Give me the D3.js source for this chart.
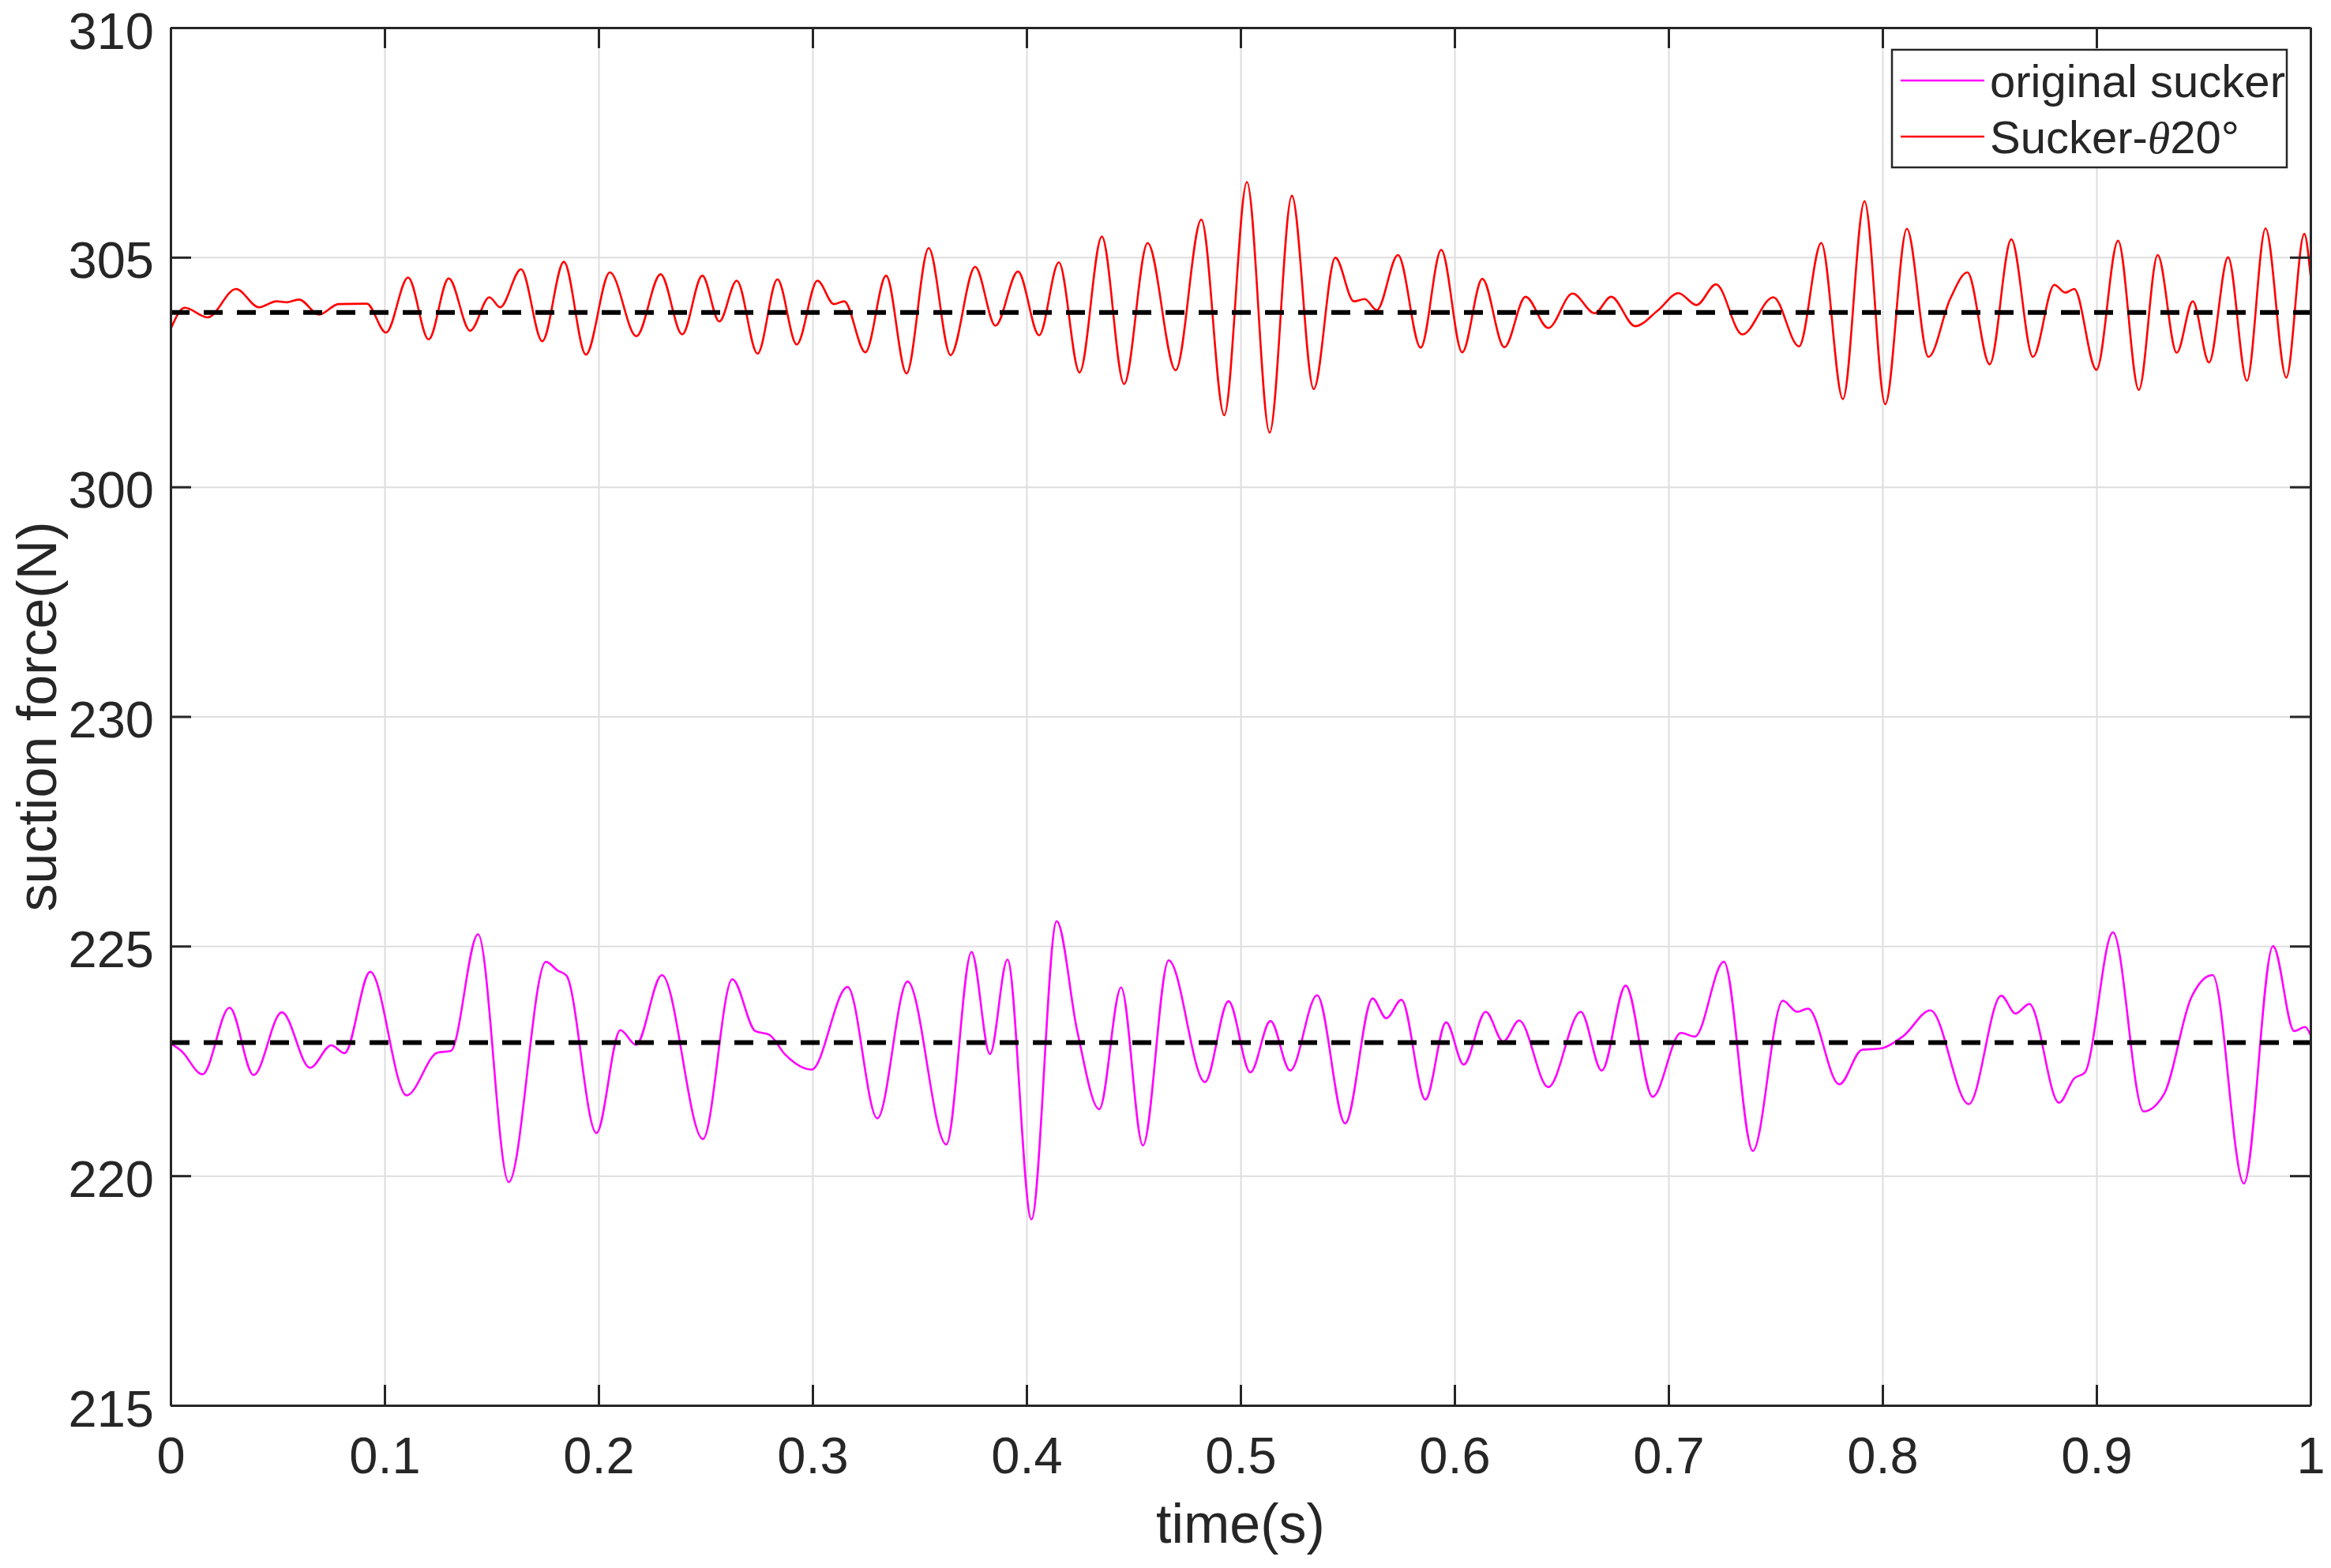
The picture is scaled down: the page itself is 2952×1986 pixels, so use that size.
<!DOCTYPE html>
<html>
<head>
<meta charset="utf-8">
<script src="https://cdn.jsdelivr.net/npm/d3@7"></script>
<style>
  body { margin: 0; background: #fff; }
  text { font-family: "Liberation Sans", Arial, sans-serif; fill: #262626; }
</style>
</head>
<body>
<script>
// values (peaks, troughs, shoulders)
const TIME_TICKS = [0, 0.1, 0.2, 0.3, 0.4, 0.5, 0.6, 0.7, 0.8, 0.9, 1];
const FORCE_TICKS = [215, 220, 225, 230, 300, 305, 310];
const SERIES_NAMES = ["original sucker", "Sucker-θ20°"];
const SERIES_COLORS = ["#ff00ff", "#ff0000"];
const MEAN_FORCE = [222.9, 303.8];

const ORIGINAL_TIME = [
  0, 0.005, 0.0149, 0.0276, 0.0388, 0.052, 0.0652, 0.0751, 0.0813, 0.0933,
  0.1103, 0.1247, 0.131, 0.1437, 0.158, 0.1754, 0.1808, 0.185, 0.199, 0.2102,
  0.2175, 0.2296, 0.2488, 0.2625, 0.2732, 0.2798, 0.2872, 0.2995, 0.3164, 0.3303,
  0.3444, 0.3625, 0.3743, 0.3829, 0.3911, 0.4023, 0.4141, 0.4237, 0.434, 0.4442,
  0.4544, 0.4664, 0.4834, 0.4944, 0.5046, 0.514, 0.5232, 0.5358, 0.5489, 0.5617,
  0.5681, 0.5752, 0.5864, 0.5961, 0.6043, 0.6146, 0.6228, 0.6302, 0.6438, 0.659,
  0.6688, 0.68, 0.6926, 0.7058, 0.7123, 0.7259, 0.7394, 0.7534, 0.7602, 0.7652,
  0.7798, 0.7904, 0.7988, 0.8097, 0.8224, 0.8403, 0.8555, 0.8622, 0.8686, 0.8825,
  0.8896, 0.8946, 0.9077, 0.922, 0.9316, 0.9442, 0.9543, 0.9689, 0.9825, 0.9924,
  0.9975, 1
];
const ORIGINAL_FORCE = [
  222.88, 222.72, 222.21, 223.66, 222.19, 223.56, 222.35, 222.84, 222.67, 224.44,
  221.75, 222.68, 222.72, 225.26, 219.86, 224.66, 224.47, 224.36, 220.93, 223.17,
  222.85, 224.37, 220.8, 224.28, 223.15, 223.07, 222.64, 222.31, 224.11, 221.25,
  224.23, 220.68, 224.87, 222.65, 224.71, 219.05, 225.54, 223.15, 221.45, 224.1,
  220.66, 224.69, 222.04, 223.8, 222.25, 223.37, 222.29, 223.93, 221.14, 223.86,
  223.43, 223.83, 221.66, 223.34, 222.42, 223.57, 222.92, 223.38, 221.93, 223.57,
  222.29, 224.14, 221.72, 223.11, 223.03, 224.66, 220.54, 223.81, 223.57, 223.64,
  221.99, 222.74, 222.77, 223.04, 223.6, 221.56, 223.92, 223.53, 223.74, 221.59,
  222.12, 222.25, 225.3, 221.4, 221.78, 223.87, 224.37, 219.83, 225.0, 223.15,
  223.24, 223.07
];

const THETA20_TIME = [
  0, 0.0066, 0.0173, 0.0306, 0.0413, 0.0495, 0.0545, 0.06, 0.0694, 0.0785,
  0.0917, 0.1007, 0.111, 0.1206, 0.13, 0.14, 0.149, 0.154, 0.1638, 0.1737,
  0.1838, 0.1941, 0.2053, 0.2177, 0.229, 0.2391, 0.2485, 0.2564, 0.2646, 0.2743,
  0.2836, 0.2926, 0.3023, 0.31, 0.3148, 0.3247, 0.3344, 0.3439, 0.3543, 0.3645,
  0.376, 0.3855, 0.396, 0.4059, 0.4151, 0.4248, 0.4352, 0.4456, 0.4566, 0.4697,
  0.4817, 0.4924, 0.503, 0.5136, 0.524, 0.5342, 0.5443, 0.553, 0.558, 0.5637,
  0.5736, 0.5842, 0.5938, 0.6036, 0.613, 0.6233, 0.6332, 0.6438, 0.6552, 0.6655,
  0.6732, 0.6844, 0.695, 0.7046, 0.7131, 0.7222, 0.7345, 0.749, 0.761, 0.7714,
  0.7815, 0.7916, 0.8013, 0.8114, 0.8215, 0.8316, 0.8397, 0.8501, 0.8602, 0.8703,
  0.8803, 0.8854, 0.8896, 0.9, 0.9101, 0.9198, 0.9286, 0.9375, 0.945, 0.9526,
  0.9615, 0.9703, 0.979, 0.9887, 0.9971, 1
];
const THETA20_FORCE = [
  303.43, 303.9, 303.69, 304.31, 303.91, 304.04, 304.02, 304.08, 303.75, 303.98,
  303.99, 303.36, 304.56, 303.21, 304.54, 303.4, 304.13, 303.91, 304.74, 303.17,
  304.9, 302.88, 304.67, 303.28, 304.63, 303.32, 304.6, 303.6, 304.49, 302.9,
  304.52, 303.1, 304.49, 303.98, 304.04, 302.93, 304.6, 302.47, 305.2, 302.87,
  304.79, 303.51, 304.69, 303.3, 304.89, 302.49, 305.45, 302.24, 305.31, 302.54,
  305.82, 301.56, 306.64, 301.18, 306.34, 302.13, 304.99, 304.04, 304.09, 303.85,
  305.05, 303.03, 305.16, 302.93, 304.53, 303.04, 304.14, 303.46, 304.21, 303.78,
  304.14, 303.5, 303.84, 304.22, 303.96, 304.41, 303.32, 304.13, 303.06, 305.31,
  301.91, 306.22, 301.8, 305.62, 302.83, 304.09, 304.67, 302.67, 305.39, 302.83,
  304.4, 304.23, 304.31, 302.55, 305.36, 302.11, 305.05, 302.92, 304.04, 302.71,
  305.0, 302.31, 305.63, 302.38, 305.51, 304.61
];

const width = 2952,
  height = 1986,
  margin = { left: 216, right: 26, top: 35, bottom: 206 },
  plotW = width - margin.left - margin.right,
  plotH = height - margin.top - margin.bottom,
  step = plotH / 6,
  axisColor = "#262626",
  gridColor = "#dedede";

const svg = d3
  .select("body")
  .append("svg")
  .attr("width", width)
  .attr("height", height);

svg.append("rect").attr("width", width).attr("height", height).attr("fill", "#fff");

const g = svg.append("g").attr("transform", `translate(${margin.left},${margin.top})`);

const xScale = d3.scaleLinear().domain([0, 1]).range([0, plotW]);

// broken axis: 230 -> 300 takes one tick step
const yScale = d3
  .scaleLinear()
  .domain([215, 230, 300, 310])
  .range([plotH, plotH - 3 * step, plotH - 4 * step, 0]);

// grid
g.append("g")
  .attr("class", "grid")
  .attr("transform", `translate(0,${plotH})`)
  .call(d3.axisBottom(xScale).tickValues(TIME_TICKS.slice(1, -1)).tickSize(-plotH).tickFormat(""));
g.append("g")
  .attr("class", "grid")
  .call(d3.axisLeft(yScale).tickValues(FORCE_TICKS.slice(1, -1)).tickSize(-plotW).tickFormat(""));
g.selectAll(".grid .domain").remove();
g.selectAll(".grid line").attr("stroke", gridColor).attr("stroke-width", 2);

// series
const line = d3
  .line()
  .x(d => xScale(d[0]))
  .y(d => yScale(d[1]))
  .curve(d3.curveMonotoneX);

const SERIES = [
  d3.zip(ORIGINAL_TIME, ORIGINAL_FORCE),
  d3.zip(THETA20_TIME, THETA20_FORCE)
];

g.selectAll(".series")
  .data(SERIES)
  .enter()
  .append("path")
  .attr("class", "series")
  .attr("d", line)
  .attr("fill", "none")
  .attr("stroke", (d, i) => SERIES_COLORS[i])
  .attr("stroke-width", 2.6)
  .attr("stroke-linejoin", "round");

// mean lines
g.selectAll(".mean")
  .data(MEAN_FORCE)
  .enter()
  .append("line")
  .attr("class", "mean")
  .attr("x1", xScale(0))
  .attr("x2", xScale(1))
  .attr("y1", d => yScale(d))
  .attr("y2", d => yScale(d))
  .attr("stroke", "#000")
  .attr("stroke-width", 6)
  .attr("stroke-dasharray", "24,18");

// axes
const xAxis = g
  .append("g")
  .attr("transform", `translate(0,${plotH})`)
  .call(
    d3.axisBottom(xScale)
      .tickValues(TIME_TICKS)
      .tickSizeInner(-26)
      .tickSizeOuter(0)
      .tickPadding(40)
      .tickFormat(d3.format(""))
  );
const yAxis = g
  .append("g")
  .call(
    d3.axisLeft(yScale)
      .tickValues(FORCE_TICKS)
      .tickSizeInner(-26)
      .tickSizeOuter(0)
      .tickPadding(21)
      .tickFormat(d3.format(""))
  );
yAxis.selectAll(".tick text").attr("dy", "0.4em");
const topAxis = g
  .append("g")
  .call(d3.axisTop(xScale).tickValues(TIME_TICKS).tickSizeInner(-26).tickSizeOuter(0).tickFormat(""));
const rightAxis = g
  .append("g")
  .attr("transform", `translate(${plotW},0)`)
  .call(d3.axisRight(yScale).tickValues(FORCE_TICKS).tickSizeInner(-26).tickSizeOuter(0).tickFormat(""));

[xAxis, yAxis, topAxis, rightAxis].forEach(a => {
  a.select(".domain").attr("stroke", axisColor).attr("stroke-width", 3);
  a.selectAll(".tick line").attr("stroke", axisColor).attr("stroke-width", 3);
  a.selectAll("text")
    .attr("fill", axisColor)
    .style("font-family", '"Liberation Sans", Arial, sans-serif')
    .style("font-size", "65px");
});

// axis titles
svg
  .append("text")
  .attr("x", margin.left + plotW / 2)
  .attr("y", 1954)
  .attr("text-anchor", "middle")
  .style("font-size", "70px")
  .text("time(s)");

svg
  .append("text")
  .attr("transform", `translate(46,${margin.top + plotH / 2}) rotate(-90)`)
  .attr("text-anchor", "middle")
  .attr("dy", "0.35em")
  .style("font-size", "70px")
  .text("suction force(N)");

// legend
const legW = 500,
  legH = 149;
const legend = g
  .append("g")
  .attr("transform", `translate(${plotW - 30 - legW},28)`);

legend
  .append("rect")
  .attr("width", legW)
  .attr("height", legH)
  .attr("fill", "#fff")
  .attr("stroke", axisColor)
  .attr("stroke-width", 2.5);

const entry = legend
  .selectAll(".entry")
  .data(SERIES_NAMES)
  .enter()
  .append("g")
  .attr("class", "entry")
  .attr("transform", (d, i) => `translate(0,${39 + i * 71})`);

entry
  .append("line")
  .attr("x1", 11)
  .attr("x2", 117)
  .attr("stroke", (d, i) => SERIES_COLORS[i])
  .attr("stroke-width", 2.6);

entry
  .append("text")
  .attr("x", 124)
  .attr("y", 21)
  .style("font-size", "58px")
  .attr("fill", "#000")
  .each(function (d) {
    const t = d3.select(this);
    const k = d.indexOf("θ");
    if (k < 0) {
      t.text(d);
    } else {
      t.append("tspan").text(d.slice(0, k));
      t.append("tspan")
        .style("font-family", '"Liberation Serif", "DejaVu Serif", serif')
        .style("font-style", "italic")
        .text("θ");
      t.append("tspan").text(d.slice(k + 1));
    }
  });
</script>
</body>
</html>
